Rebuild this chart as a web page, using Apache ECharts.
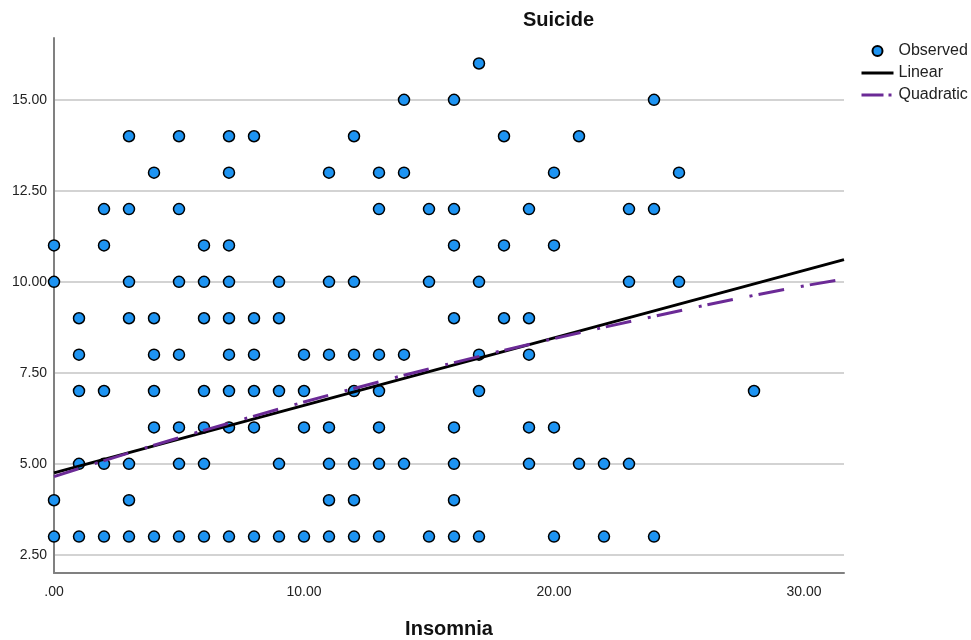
<!DOCTYPE html>
<html><head><meta charset="utf-8">
<script src="https://cdn.jsdelivr.net/npm/echarts@6/dist/echarts.min.js"></script>
<style>html,body{margin:0;padding:0;background:#fff}#c{width:971px;height:640px}</style>
</head><body><div id="c"></div>
<script>
// Tick values
const xTicks = [0, 10, 20, 30];
const yTicks = [2.5, 5, 7.5, 10, 12.5, 15];
// Observed points: one list of Insomnia values per Suicide level
const suicideLevels = [3, 4, 5, 6, 7, 8, 9, 10, 11, 12, 13, 14, 15, 16];
const insomniaAtLevel = [
  [0,1,2,3,4,5,6,7,8,9,10,11,12,13,15,16,17,20,22,24],
  [0,3,11,12,16],
  [1,2,3,5,6,9,11,12,13,14,16,19,21,22,23],
  [4,5,6,7,8,10,11,13,16,19,20],
  [1,2,4,6,7,8,9,10,12,13,17,28],
  [1,4,5,7,8,10,11,12,13,14,17,19],
  [1,3,4,6,7,8,9,16,18,19],
  [0,3,5,6,7,9,11,12,15,17,23,25],
  [0,2,6,7,16,18,20],
  [2,3,5,13,15,16,19,23,24],
  [4,7,11,13,14,20,25],
  [3,5,7,8,12,18,21],
  [14,16,24],
  [17]
];
// Fitted lines
const linearX = [0, 31.6];
const linearY = [4.75, 10.61];
const quadX = [0, 4, 8, 12, 16, 20, 24, 28, 31.6];
const quadY = [4.65, 5.51, 6.31, 7.07, 7.78, 8.44, 9.05, 9.63, 10.08];

const observed = [];
suicideLevels.forEach((lv, i) => insomniaAtLevel[i].forEach(x => observed.push([x, lv])));
const fmt = v => { const s = Number(v).toFixed(2); return s.startsWith('0.') ? s.slice(1) : s; };
const FONT = 'Liberation Sans, Arial, sans-serif';

const chart = echarts.init(document.getElementById('c'), null, {renderer: 'canvas'});
chart.setOption({
  animation: false,
  backgroundColor: '#fff',
  textStyle: {fontFamily: FONT},
  title: {text: 'Suicide', left: 523, top: 10, padding: 0,
    textStyle: {fontSize: 20, fontWeight: 'bold', color: '#111', fontFamily: FONT}},
  legend: {
    orient: 'vertical', left: 855, top: 38, itemWidth: 32, itemHeight: 10, itemGap: 6,
    textStyle: {fontSize: 16, color: '#222', fontFamily: FONT},
    data: [
      {name: 'Observed'},
      {name: 'Linear', itemStyle: {opacity: 0}, lineStyle: {color: '#000', width: 3, type: 'solid'}},
      {name: 'Quadratic', itemStyle: {opacity: 0}, lineStyle: {color: '#6b2a96', width: 3, type: [22, 5, 3, 10]}}
    ]
  },
  grid: {left: 54, right: 127, top: 38, bottom: 67, containLabel: false, outerBoundsMode: 'none'},
  xAxis: {
    type: 'value', min: 0, max: 31.6,
    name: 'Insomnia', nameLocation: 'middle', nameGap: 46,
    nameTextStyle: {fontSize: 20, fontWeight: 'bold', color: '#111'},
    axisLine: {show: true, lineStyle: {color: '#808080', width: 2}},
    axisTick: {show: false},
    splitLine: {show: false},
    axisLabel: {customValues: xTicks, formatter: fmt, fontSize: 14, color: '#222', margin: 12}
  },
  yAxis: {
    type: 'value', min: 2, max: 16.7,
    axisLine: {show: true, lineStyle: {color: '#808080', width: 2}},
    axisTick: {show: false},
    splitLine: {show: false},
    axisLabel: {customValues: yTicks, formatter: fmt, fontSize: 14, color: '#222', margin: 7}
  },
  series: [
    {
      name: 'grid', type: 'line', data: [], z: 0, silent: true,
      markLine: {silent: true, symbol: 'none', z: 0, animation: false,
        label: {show: false},
        lineStyle: {color: '#c4c4c4', width: 1.5, type: 'solid'},
        emphasis: {disabled: true},
        data: yTicks.map(v => ({yAxis: v}))}
    },
    {
      name: 'Observed', type: 'scatter', z: 3, symbol: 'circle', symbolSize: 11,
      itemStyle: {color: '#1e94f2', borderColor: '#000', borderWidth: 1.5, opacity: 1},
      data: observed
    },
    {
      name: 'Linear', type: 'line', z: 4, symbol: 'none', showSymbol: false,
      lineStyle: {color: '#000', width: 3},
      itemStyle: {color: '#000'},
      data: linearX.map((x, i) => [x, linearY[i]])
    },
    {
      name: 'Quadratic', type: 'line', z: 5, symbol: 'none', showSymbol: false, smooth: true,
      lineStyle: {color: '#6b2a96', width: 3, type: [26, 17, 3, 6], cap: 'butt'},
      itemStyle: {color: '#6b2a96'},
      data: quadX.map((x, i) => [x, quadY[i]])
    }
  ]
});
</script></body></html>
